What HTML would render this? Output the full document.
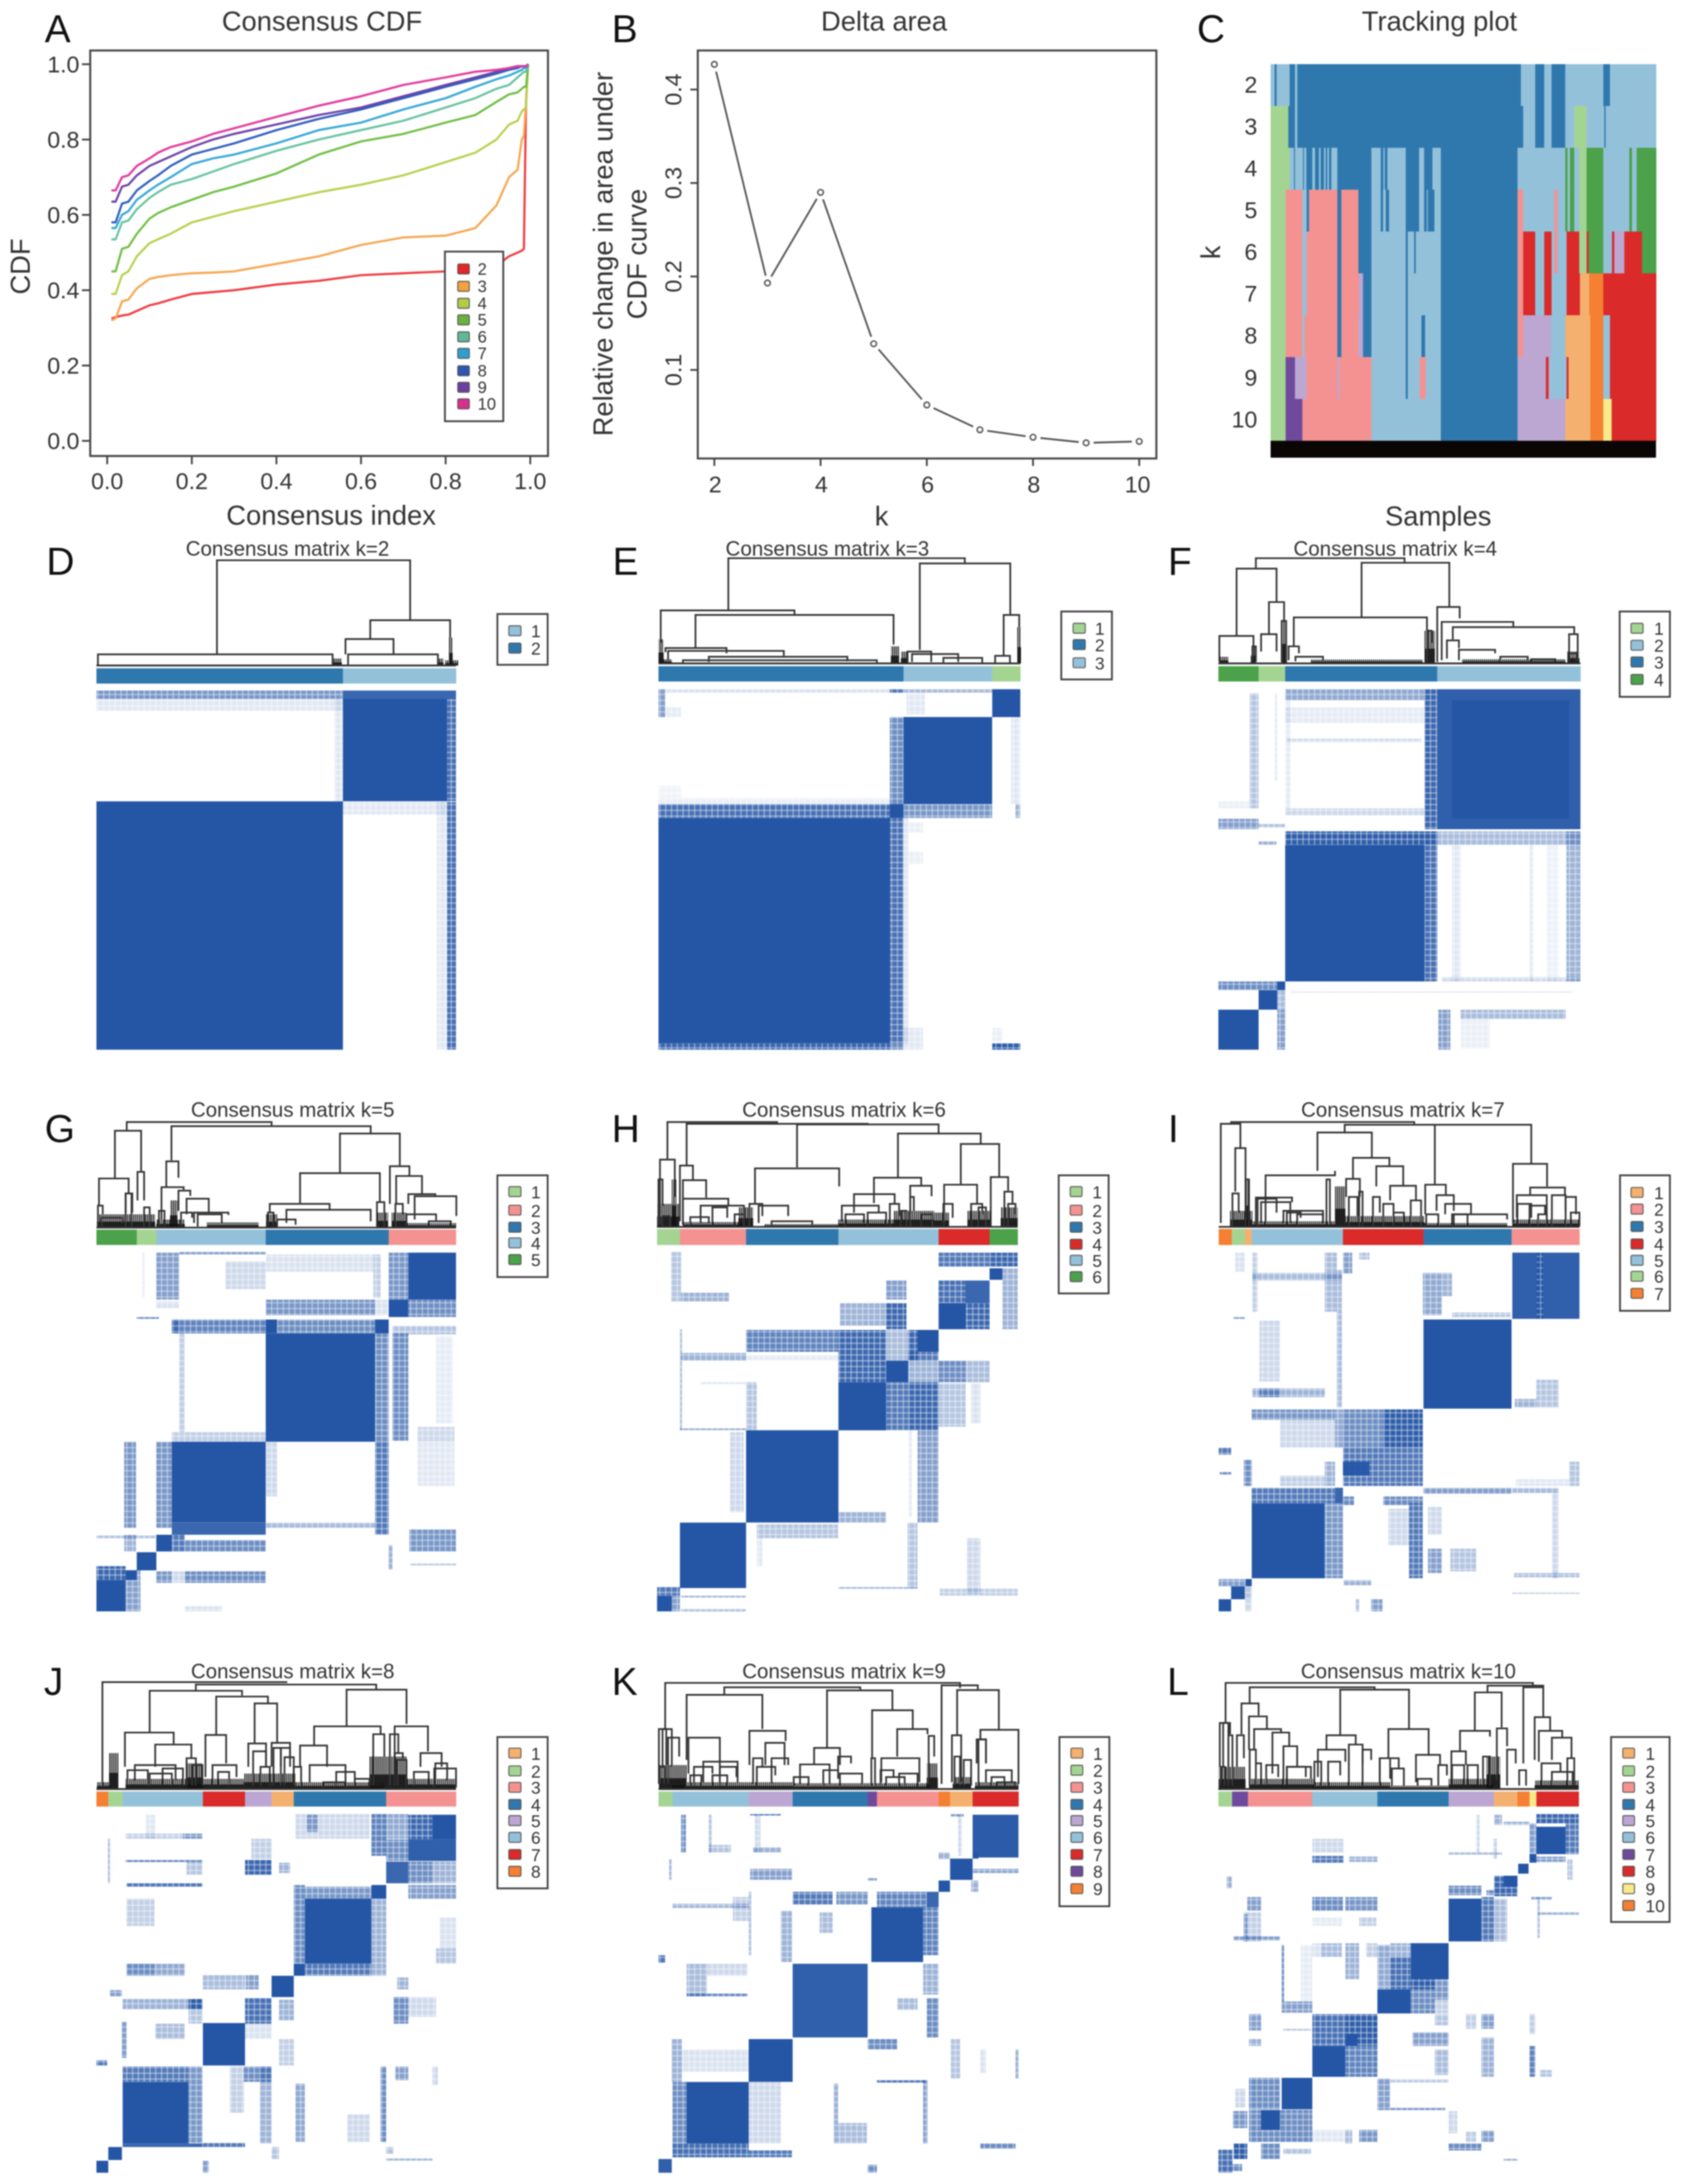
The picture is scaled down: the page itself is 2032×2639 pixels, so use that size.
<!DOCTYPE html>
<html lang="en">
<head>
<meta charset="utf-8">
<title>Consensus clustering panels</title>
<style>
html,body{margin:0;padding:0;background:#fff;width:2032px;height:2639px;overflow:hidden}
svg{display:block;filter:blur(.7px)}
text{font-family:"Liberation Sans",Arial,sans-serif;fill:#333}
</style>
</head>
<body>
<svg id="root" xmlns="http://www.w3.org/2000/svg" width="2032" height="2639" viewBox="0 0 2032 2639">
<defs>
<pattern id="combStripes" width="2.4" height="6" patternUnits="userSpaceOnUse"><rect width="1.4" height="6" fill="#111"/></pattern>
<pattern id="consensusGrid" width="7" height="7" patternUnits="userSpaceOnUse"><rect width="7" height="7" fill="#2556a6"/><rect x="5.4" width="1.6" height="7" fill="#fff" fill-opacity=".4"/><rect y="5.4" width="7" height="1.6" fill="#fff" fill-opacity=".4"/></pattern>
</defs>
<rect width="2032" height="2639" fill="#fff"/>
</svg>
<script>
/* ---------- Panel A: consensus CDF ---------- */
const cdfGrid=[.01,.02,.035,.05,.07,.1,.12,.15,.2,.25,.3,.4,.5,.6,.7,.8,.87,.92,.95,.97,.98,.985,.99,.995];
const cdfK2=[.325,.328,.333,.335,.345,.36,.365,.375,.39,.395,.40,.415,.425,.44,.445,.45,.455,.465,.49,.50,.505,.51,.90,1];
const cdfK3=[.32,.325,.37,.375,.405,.43,.435,.44,.445,.447,.45,.47,.49,.52,.54,.545,.565,.625,.70,.72,.80,.81,.90,1];
const cdfK4=[.39,.39,.44,.45,.49,.525,.535,.55,.58,.595,.61,.635,.66,.68,.705,.74,.765,.80,.84,.85,.875,.88,.885,1];
const cdfK5=[.45,.45,.51,.515,.55,.59,.605,.62,.64,.66,.675,.71,.76,.795,.815,.845,.865,.90,.92,.925,.935,.94,.94,1];
const cdfK6=[.535,.535,.58,.585,.615,.645,.66,.68,.695,.715,.735,.77,.80,.825,.85,.885,.91,.935,.945,.965,.975,.98,.98,1];
const cdfK7=[.565,.565,.60,.61,.64,.665,.68,.70,.735,.75,.76,.79,.825,.845,.88,.91,.94,.96,.97,.98,.985,.99,.99,1];
const cdfK8=[.58,.58,.63,.635,.665,.69,.705,.73,.76,.775,.79,.825,.855,.88,.91,.94,.96,.975,.985,.99,.995,.995,.995,1];
const cdfK9=[.635,.635,.675,.68,.705,.73,.74,.755,.78,.80,.815,.84,.865,.885,.915,.945,.965,.98,.99,.995,.995,.995,.995,1];
const cdfK10=[.665,.665,.70,.705,.73,.75,.765,.78,.795,.815,.83,.86,.89,.915,.945,.965,.98,.985,.99,.995,.995,.995,.995,1];
const cdfNames=['2','3','4','5','6','7','8','9','10'];
const cdfColors=['#ef3b3f','#f5a650','#b6d14e','#6fbe45','#66c3a0','#36a8d8','#2f5fbf','#6f42a8','#e33a9a'];
const cdfSwatches=['#e52429','#f3a23c','#b3cb45','#6bb13f','#60b898','#2ea0cf','#2e55b0','#6a3fa0','#d6308f'];
const cdfTicks=['0.0','0.2','0.4','0.6','0.8','1.0'];
const cdfTickValues=[0,.2,.4,.6,.8,1];

/* ---------- Panel B: delta area ---------- */
const deltaK=[2,3,4,5,6,7,8,9,10];
const deltaValues=[.427,.193,.29,.128,.0625,.036,.028,.022,.0235];
const deltaXTicks=[2,4,6,8,10];
const deltaYTicks=[.1,.2,.3,.4];

/* ---------- Shared cluster palette ---------- */
const palette={LB:'#94c1da',DB:'#2f78ae',LG:'#a4d492',DG:'#4ba24a',PK:'#f49291',RD:'#da2a2a',OL:'#f4b06e',OR:'#f57f32',LP:'#bca6d2',PU:'#6f4a9c',YE:'#f8e98a'};

/* ---------- Panel C: tracking plot, runs of [cluster colour, last sample] ---------- */
const trackK2=[['LB',12],['DB',18],['LB',57],['DB',73],['LB',80],['DB',750],['LB',793],['DB',820],['LB',842],['DB',883],['LB',997],['DB',1017],['LB',1155]];
const trackK3=[['LG',53],['DB',73],['LB',80],['DB',757],['LB',793],['DB',820],['LB',842],['DB',883],['LB',910],['LG',947],['LB',1000],['DB',1004],['LB',1155]];
const trackK4=[['LG',57],['LB',70],['DB',73],['LB',97],['DB',100],['LB',107],['DB',125],['LB',133],['DB',145],['LB',150],['DB',160],['LB',165],['DB',170],['LB',175],['DB',182],['LB',200],['DB',302],['LB',330],['DB',338],['LB',342],['DB',350],['LB',405],['DB',445],['LB',460],['DB',485],['LB',510],['DB',740],['LB',883],['DG',890],['LB',897],['DG',910],['LB',925],['LG',947],['DG',997],['LB',1075],['DG',1083],['LB',1097],['DG',1155]];
const trackK5=[['LG',45],['PK',95],['LB',108],['DB',115],['PK',200],['DB',212],['PK',263],['DB',302],['LB',330],['DB',337],['LB',345],['DB',355],['LB',405],['DB',445],['LB',460],['DB',468],['LB',471],['DB',491],['LB',510],['DB',740],['PK',757],['LB',850],['PK',860],['LB',883],['DG',890],['LB',897],['DG',910],['LB',925],['LG',947],['DG',997],['LB',1075],['DG',1083],['LB',1097],['DG',1155]];
const trackK6=[['LG',45],['PK',95],['LB',108],['PK',200],['DB',212],['PK',263],['DB',302],['LB',405],['DB',411],['LB',430],['DB',435],['LB',510],['DB',740],['PK',757],['RD',793],['LB',820],['RD',842],['LB',850],['PK',860],['LB',887],['RD',925],['LG',947],['RD',953],['DG',997],['LB',1023],['RD',1030],['LP',1060],['RD',1113],['DG',1155]];
const trackK7=[['LG',45],['PK',95],['LB',108],['PK',200],['DB',212],['PK',265],['LP',277],['DB',302],['LB',405],['DB',411],['LB',510],['DB',740],['PK',757],['RD',793],['LB',820],['RD',842],['LB',887],['RD',927],['OL',955],['OR',997],['RD',1155]];
const trackK8=[['LG',45],['PK',95],['LB',102],['PK',200],['DB',212],['PK',263],['LP',277],['DB',302],['LB',405],['DB',411],['LB',452],['DB',463],['LB',510],['DB',740],['PK',757],['LP',840],['LB',883],['OL',958],['OR',997],['LB',1017],['RD',1155]];
const trackK9=[['LG',45],['PU',73],['LP',108],['PK',200],['LP',206],['PK',302],['LB',405],['DB',411],['LB',447],['PK',465],['LB',510],['DB',740],['LP',825],['RD',833],['LP',837],['LB',887],['RD',893],['OL',958],['OR',997],['LB',1017],['RD',1155]];
const trackK10=[['LG',45],['PU',95],['PK',302],['LB',510],['DB',740],['LP',883],['OL',958],['OR',997],['YE',1022],['RD',1155]];
const trackRows=[trackK2,trackK3,trackK4,trackK5,trackK6,trackK7,trackK8,trackK9,trackK10];
const trackLabels=['2','3','4','5','6','7','8','9','10'];

/* ---------- Panels D-L: cluster order, annotation bar, consensus blocks, dendrogram ---------- */
const legendK2=['LB','DB'];
const legendK3=['LG','DB','LB'];
const legendK4=['LG','LB','DB','DG'];
const legendK5=['LG','PK','DB','LB','DG'];
const legendK6=['LG','PK','DB','RD','LB','DG'];
const legendK7=['OL','PK','DB','RD','LB','LG','OR'];
const legendK8=['OL','LG','PK','DB','LP','LB','RD','OR'];
const legendK9=['OL','LG','PK','DB','LP','LB','RD','PU','OR'];
const legendK10=['OL','LG','PK','DB','LP','LB','PU','RD','YE','OR'];

/* annotation bars: [cluster id, sample start, sample end] */
const barK2=[[2,261,928],[1,928,1234]];
const barK3=[[2,214,877],[3,877,1117],[1,1117,1193]];
const barK4=[[4,221,338],[1,338,415],[3,415,857],[2,857,1273]];
const barK5=[[5,261,370],[1,370,423],[4,423,719],[3,719,1052],[2,1052,1234]];
const barK6=[[1,210,272],[2,272,451],[3,451,701],[5,701,972],[4,972,1110],[6,1110,1186]];
const barK7=[[7,222,260],[6,260,298],[1,298,318],[5,318,583],[4,583,817],[3,817,1073],[2,1073,1270]];
const barK8=[[8,261,293],[2,293,332],[6,332,549],[7,549,663],[5,663,735],[1,735,795],[4,795,1045],[3,1045,1234]];
const barK9=[[2,214,252],[6,252,458],[5,458,577],[4,577,780],[8,780,805],[3,805,972],[9,972,1003],[1,1003,1064],[7,1064,1188]];
const barK10=[[2,221,261],[7,261,307],[3,307,494],[6,494,683],[4,683,890],[5,890,1022],[1,1022,1090],[10,1090,1125],[9,1125,1145],[8,1145,1268]];

/* consensus blocks: [col start, col end, row start, row end, consensus] */
const blocksK2=[[261,928,462,486,.55],[928,1234,462,486,.9],[261,928,486,520,.12],[905,928,486,780,.12],[928,1210,486,780,1],[1210,1234,486,780,.75],[261,928,780,1493,1],[928,1210,782,818,.12],[1182,1210,782,1493,.12],[1210,1234,782,1493,.75]];
const blocksK3=[[214,232,458,538,.5],[232,275,510,538,.1],[232,840,458,468,.15],[840,877,458,468,.7],[877,1117,458,468,.35],[885,935,470,530,.12],[1117,1193,458,538,1],[840,877,538,788,.6],[877,1117,538,788,1],[1168,1193,538,788,.12],[214,840,770,788,.08],[214,275,735,770,.06],[214,840,788,828,.75],[840,877,788,828,1],[877,1117,788,828,.55],[1180,1193,788,828,.4],[214,840,828,1475,1],[840,877,828,1475,.75],[877,890,828,1475,.12],[890,930,840,870,.08],[890,930,925,960,.08],[214,840,1475,1493,.8],[840,877,1475,1493,.6],[877,930,1430,1493,.12],[1117,1193,1475,1493,.85],[1117,1145,1430,1470,.08]];
const blocksK4=[[415,820,458,490,.45],[820,857,458,860,.8],[857,1273,458,860,.95],[900,1240,490,830,1],[312,338,470,800,.3],[385,392,470,720,.1],[221,338,830,860,.5],[221,312,780,800,.08],[415,820,510,555,.1],[420,810,600,610,.2],[415,820,800,820,.2],[415,430,490,800,.1],[338,415,845,855,.3],[415,857,866,905,.85],[415,820,905,1297,1],[820,857,905,1297,.75],[857,1273,866,905,.35],[1232,1273,866,1297,.4],[900,925,905,1297,.12],[1125,1135,905,1297,.1],[1175,1210,905,1297,.07],[870,1273,1285,1297,.2],[338,390,895,905,.4],[221,392,1297,1322,.6],[392,415,1297,1322,1],[338,392,1322,1378,1],[392,415,1322,1378,.35],[221,338,1378,1493,1],[392,415,1378,1493,.5],[860,895,1378,1493,.5],[925,1230,1378,1405,.35],[925,1010,1405,1490,.08],[430,1250,1325,1330,.1]];
const blocksK5=[[423,485,460,595,.5],[485,719,458,465,.5],[610,719,485,565,.2],[719,1010,465,515,.15],[1010,1030,465,590,.25],[385,392,460,590,.1],[1052,1105,460,595,.55],[1105,1234,460,595,1],[423,485,600,620,.15],[719,1015,595,640,.55],[1015,1050,595,640,.15],[1052,1105,595,645,1],[1105,1234,595,645,.6],[370,430,645,650,.6],[465,485,652,692,.8],[485,719,652,692,.65],[719,750,652,692,1],[750,1015,652,692,.6],[1015,1052,652,692,1],[1062,1234,670,695,.3],[485,500,692,975,.25],[719,1015,692,1003,1],[1015,1052,692,1003,.6],[1062,1105,692,1000,.6],[1130,1230,960,1003,.2],[1180,1225,700,950,.1],[465,719,975,1003,.25],[336,368,1003,1250,.55],[423,465,1003,1250,.55],[465,719,1003,1235,1],[465,719,1235,1270,.9],[719,750,1003,1160,.2],[719,1015,1235,1250,.35],[1015,1052,1003,1270,.7],[1130,1230,1003,1130,.12],[1108,1234,1255,1318,.55],[261,420,1272,1280,.3],[336,368,1270,1318,.4],[423,465,1270,1318,1],[465,500,1270,1318,.7],[500,719,1285,1318,.6],[370,423,1320,1372,1],[261,340,1360,1400,.8],[340,380,1372,1490,.5],[261,340,1400,1490,1],[340,370,1372,1400,1],[423,465,1375,1408,.55],[500,719,1375,1408,.6],[465,500,1375,1408,.2],[500,600,1475,1490,.15],[1052,1062,1300,1370,.4],[1110,1234,1352,1358,.3]];
const blocksK6=[[248,275,458,600,.3],[275,405,575,600,.4],[972,1110,460,500,.7],[1110,1186,460,500,.8],[1110,1145,505,538,1],[1145,1186,505,680,.4],[972,1045,540,605,.75],[1045,1110,540,605,.9],[972,1045,605,680,1],[1045,1110,605,680,.8],[830,885,540,595,.5],[705,830,605,670,.4],[830,885,605,680,.8],[451,701,682,745,.65],[701,830,682,770,.8],[830,890,682,770,.35],[890,915,682,770,.8],[915,972,682,745,1],[890,972,745,770,.7],[275,451,748,770,.4],[451,700,755,770,.1],[701,830,770,832,.8],[830,890,770,832,1],[890,972,770,832,.4],[972,1045,770,832,.6],[1045,1110,770,832,.35],[701,830,832,970,1],[830,890,832,970,.7],[890,972,832,970,.8],[972,1045,835,960,.3],[1060,1085,835,950,.15],[451,480,832,970,.3],[272,451,965,970,.5],[272,278,680,970,.3],[328,451,832,838,.15],[451,701,970,1235,1],[408,445,975,1205,.2],[915,972,970,1235,.5],[890,900,970,1220,.1],[701,830,1205,1235,.4],[272,451,1235,1423,1],[480,700,1240,1280,.3],[480,495,1280,1360,.12],[888,915,1235,1423,.3],[701,915,1420,1425,.4],[1048,1085,1280,1440,.2],[975,1186,1425,1445,.25],[210,272,1420,1445,.7],[210,250,1445,1490,1],[250,272,1445,1490,.5],[275,450,1445,1450,.4],[275,450,1483,1490,.4]];
const blocksK7=[[1075,1270,460,650,.95],[1145,1165,460,650,.7],[320,335,460,630,.25],[530,565,460,630,.35],[583,610,460,520,.5],[630,660,460,480,.3],[270,298,460,515,.15],[320,580,518,540,.35],[815,870,518,640,.45],[870,900,518,585,.4],[900,1070,632,645,.3],[565,580,510,905,.35],[265,298,645,650,.5],[817,1073,652,908,1],[1082,1145,880,905,.4],[1145,1210,825,905,.3],[340,400,655,830,.2],[320,530,850,875,.4],[340,400,850,875,.5],[318,560,910,940,.55],[400,560,940,1020,.2],[560,583,910,1020,.45],[583,700,910,1020,.6],[700,815,910,1020,.85],[583,815,1020,1130,.7],[583,660,1060,1100,.95],[222,258,1020,1040,.7],[295,318,1055,1130,.6],[225,258,1090,1097,.6],[530,560,1060,1130,.4],[400,530,1100,1130,.25],[1240,1270,1060,1130,.3],[1085,1240,1110,1130,.12],[318,560,1135,1180,.7],[560,583,1135,1180,.9],[583,615,1160,1185,.6],[700,815,1160,1185,.6],[318,530,1180,1395,1],[530,583,1180,1395,.55],[775,815,1180,1395,.7],[715,775,1195,1300,.2],[817,1073,1135,1152,.5],[1075,1210,1135,1150,.35],[1190,1210,1150,1395,.2],[830,870,1190,1270,.2],[830,870,1310,1380,.5],[895,970,1310,1375,.3],[1080,1270,1380,1392,.35],[222,300,1397,1418,.5],[300,318,1397,1418,1],[258,298,1418,1455,1],[298,318,1418,1455,.3],[222,258,1455,1490,1],[298,318,1455,1490,.2],[585,665,1400,1415,.4],[620,630,1455,1490,.3],[665,698,1455,1490,.5],[1075,1270,1435,1440,.25]];
const blocksK8=[[395,420,490,560,.12],[340,548,545,560,.25],[495,548,545,560,.4],[800,1000,488,560,.2],[830,860,490,540,.45],[1005,1045,488,610,.65],[1045,1105,488,560,.45],[1105,1170,490,562,.8],[1170,1234,490,562,1],[1105,1234,562,625,.95],[1045,1105,562,625,.6],[1045,1105,627,690,.9],[1105,1170,627,690,.6],[1170,1234,627,690,.4],[292,298,560,690,.4],[340,548,622,628,.6],[505,548,628,665,.3],[663,735,622,665,.8],[755,785,630,660,.4],[680,735,560,620,.25],[342,548,690,700,.7],[1105,1234,695,735,.5],[342,418,735,815,.25],[795,825,695,925,.6],[825,1005,700,735,.55],[825,1005,735,925,1],[1005,1045,695,735,1],[1005,1045,735,925,.4],[795,825,925,960,1],[825,1005,925,960,.7],[1005,1045,925,960,.4],[342,418,925,960,.6],[418,500,925,960,.45],[1180,1234,880,925,.3],[1190,1234,790,880,.15],[549,663,958,1000,.35],[665,700,958,1000,.5],[735,795,960,1022,1],[298,330,1002,1020,.5],[1075,1105,965,1000,.4],[332,510,1028,1058,.4],[510,548,1028,1058,.85],[510,548,1058,1100,.3],[663,735,1025,1100,.75],[755,795,1030,1090,.4],[1065,1105,1022,1100,.6],[1105,1180,1022,1080,.2],[330,343,1095,1200,.5],[420,500,1100,1145,.35],[549,663,1098,1222,1],[663,735,1100,1145,.15],[755,795,1145,1222,.25],[261,290,1207,1222,.7],[332,510,1225,1270,.7],[510,548,1225,1450,.55],[332,510,1270,1450,1],[622,660,1225,1360,.25],[660,735,1225,1270,.6],[703,735,1225,1450,.4],[800,825,1275,1445,.45],[1030,1045,1225,1445,.6],[940,1000,1365,1445,.2],[1070,1105,1225,1265,.5],[1170,1185,1225,1280,.2],[332,548,1450,1460,.9],[549,663,1448,1460,.7],[293,330,1460,1498,1],[735,755,1460,1495,.3],[1045,1065,1460,1480,.3],[1045,1170,1494,1500,.5],[261,293,1500,1535,1],[549,565,1500,1535,.5]];
const blocksK9=[[275,288,490,600,.6],[350,358,490,600,.3],[350,410,578,600,.3],[462,545,488,492,.7],[475,490,490,600,.2],[470,545,585,600,.4],[1064,1188,490,615,.97],[1005,1040,488,495,.5],[1025,1035,490,610,.2],[972,1003,600,620,.4],[1003,1064,618,680,1],[1064,1080,600,618,1],[1064,1188,648,660,.5],[243,250,620,680,.4],[462,575,648,680,.5],[780,805,675,682,.5],[972,1003,682,715,1],[1060,1080,682,715,.4],[577,685,715,752,.7],[695,780,715,752,.55],[805,940,715,760,.65],[940,972,715,760,.9],[252,458,750,762,.4],[415,458,730,800,.25],[458,465,715,900,.3],[790,930,760,920,1],[930,972,760,900,.65],[650,685,775,835,.35],[545,575,770,920,.4],[214,232,900,922,.7],[577,780,925,1140,.95],[930,972,925,1015,.4],[940,972,1025,1140,.6],[860,915,1025,1060,.35],[290,345,925,1020,.35],[345,455,925,960,.2],[290,455,1012,1020,.6],[458,577,1145,1270,1],[780,860,1145,1175,.6],[250,277,1145,1270,.4],[277,458,1175,1240,.15],[1005,1030,1145,1260,.3],[1085,1100,1175,1245,.15],[1180,1188,1175,1260,.4],[252,290,1270,1450,.6],[290,458,1270,1450,1],[252,458,1450,1490,.75],[458,545,1270,1450,.2],[458,575,1470,1490,.7],[688,700,1275,1450,.4],[700,778,1390,1450,.35],[805,940,1265,1272,.7],[930,942,1265,1450,.5],[1085,1180,1450,1465,.6],[214,250,1495,1535,.95],[780,805,1512,1535,.6]];
const blocksK10=[[1145,1268,488,515,.8],[1125,1145,515,605,.5],[1145,1230,525,605,1],[1230,1268,515,605,.7],[1125,1145,605,630,1],[1145,1230,612,628,.5],[1022,1045,490,520,.4],[1050,1125,510,520,.4],[970,980,490,600,.2],[1020,1030,560,620,.25],[890,1045,600,606,.5],[494,585,560,600,.2],[494,585,610,630,.7],[600,683,612,628,.4],[1092,1122,633,662,1],[1235,1250,620,680,.3],[1022,1090,668,728,.8],[1050,1090,668,700,1],[890,985,697,725,.6],[1000,1022,710,725,.6],[245,260,670,705,.4],[494,583,730,770,.6],[590,683,730,770,.55],[305,345,730,770,.5],[890,985,735,860,1],[985,1022,730,860,.7],[1022,1060,735,860,.35],[295,345,775,860,.25],[494,580,790,815,.1],[630,680,790,815,.25],[265,400,845,857,.5],[295,305,780,860,.5],[1130,1190,730,738,.5],[1148,1155,730,850,.3],[1150,1268,775,782,.4],[520,580,865,905,.35],[590,630,865,970,.4],[494,520,865,905,.15],[650,683,865,905,.25],[683,720,870,1000,.45],[720,780,865,905,.4],[780,890,865,970,1],[720,780,905,1000,.75],[780,850,970,1000,.85],[850,890,970,1030,.55],[683,780,1000,1070,1],[780,850,1000,1070,.6],[850,890,1030,1070,.25],[405,412,870,1035,.55],[405,494,1035,1068,.5],[460,494,870,1035,.1],[494,590,1072,1165,.75],[590,683,1072,1165,.85],[590,625,1130,1165,1],[310,345,1072,1120,.5],[310,345,1145,1165,.4],[410,490,1115,1120,.3],[850,890,1072,1105,.3],[785,890,1125,1165,.5],[850,890,1175,1250,.35],[985,1022,1072,1115,.5],[940,970,1072,1115,.25],[985,1022,1140,1255,.4],[1125,1142,1072,1130,.25],[1125,1142,1165,1255,.65],[1155,1190,1235,1255,.3],[494,590,1165,1255,1],[590,683,1165,1255,.65],[405,494,1258,1350,1],[310,400,1258,1350,.6],[270,300,1290,1345,.2],[683,720,1260,1345,.5],[683,880,1345,1352,.6],[720,890,1262,1272,.25],[263,305,1355,1405,.55],[345,400,1352,1410,1],[310,345,1352,1445,.6],[400,494,1352,1445,.6],[345,400,1410,1445,.6],[494,590,1410,1445,.12],[590,610,1410,1450,.35],[630,683,1410,1445,.55],[890,915,1355,1420,.2],[985,1022,1412,1445,.5],[940,970,1415,1445,.25],[890,985,1450,1470,.6],[265,305,1450,1495,.85],[345,400,1450,1495,.6],[410,490,1465,1480,.3],[221,262,1468,1535,.75],[262,290,1510,1530,.6],[1050,1090,1495,1500,.6]];

/* dendrogram merges: [left leaf, right leaf, merge height, left drop, right drop] */
const mergesK2=[[587,1110,88,358,260],[265,900,358,388,388],[1002,1218,260,314,310],[935,1065,314,358,358],[942,1185,358,388,388]];
const mergesK3=[[403,1043,82,232,97],[921,1166,97,345,245],[220,582,232,325,243],[314,850,245,340,330],[1148,1190,245,360,280],[233,398,340,352,355],[240,553,348,375,362],[350,725,365,380,378],[280,805,375,382,382],[888,952,350,380,380],[900,1025,357,380,380],[985,1090,368,382,382],[1125,1165,362,382,382]];
const mergesK4=[[330,762,82,110,95],[637,892,95,250,222],[274,390,112,305,208],[224,323,305,380,335],[368,412,208,300,262],[345,390,300,350,350],[440,827,252,335,290],[857,922,222,380,255],[870,1078,265,375,280],[902,1255,280,315,300],[885,920,318,370,340],[920,1025,345,375,355],[425,455,335,375,355],[445,525,365,378,375],[1240,1265,300,375,375],[320,330,335,380,380],[405,418,262,380,380],[828,840,290,380,325],[1240,1262,355,380,380],[1040,1120,365,380,375],[1130,1200,372,380,380]];
const mergesK5=[[343,735,85,110,97],[464,1003,97,195,118],[920,1082,118,230,210],[311,382,110,245,228],[268,348,247,325,290],[812,1028,232,318,315],[730,892,320,345,337],[775,1003,337,375,370],[1055,1108,212,320,238],[1072,1142,240,320,290],[1105,1178,292,320,297],[1122,1235,298,365,355],[450,483,198,270,245],[437,497,272,365,280],[483,515,282,340,297],[505,565,305,350,345],[525,618,345,375,352],[340,358,290,345,345],[372,390,228,310,310],[265,278,325,385,350],[275,330,360,385,375],[340,356,290,385,385],[390,405,330,385,385],[430,445,340,385,385],[490,520,345,385,360],[535,600,350,385,375],[725,740,345,385,385],[750,800,365,385,380],[1020,1040,315,385,385],[1070,1090,320,385,350],[1100,1180,350,385,370],[1160,1220,370,385,385]];
const mergesK6=[[238,535,85,190,88],[290,780,90,210,92],[589,972,92,215,118],[862,1086,118,243,148],[1032,1136,148,265,243],[218,258,193,380,300],[272,307,210,370,250],[280,343,252,380,302],[280,403,305,380,325],[475,703,218,320,270],[485,565,325,375,355],[797,925,245,318,268],[743,853,292,345,320],[895,953,268,350,298],[987,1076,265,375,318],[1113,1160,243,380,282],[710,810,325,370,345],[328,445,325,375,350],[214,225,250,380,325],[225,245,355,385,385],[300,350,358,385,375],[360,400,330,385,360],[420,445,350,385,385],[460,495,320,385,355],[520,630,370,385,380],[720,770,350,385,375],[780,830,345,385,380],[840,865,320,385,355],[870,885,340,385,385],[895,905,300,385,340],[925,955,350,385,385],[985,1010,320,385,360],[1060,1090,320,385,350],[1080,1100,330,385,385],[1150,1172,285,385,320],[1160,1180,320,385,350]];
const mergesK7=[[258,790,85,90,90],[228,285,90,375,160],[270,300,160,285,250],[588,850,93,115,93],[850,1130,93,265,205],[509,667,115,225,188],[358,560,238,380,225],[612,718,188,250,212],[680,758,212,270,270],[592,632,248,300,300],[720,795,268,310,310],[822,882,265,350,293],[855,905,295,340,340],[880,955,320,350,350],[1077,1176,205,375,270],[1127,1228,273,295,295],[1088,1175,295,360,360],[330,435,302,380,315],[345,430,315,375,375],[410,525,340,375,375],[900,1060,350,380,365],[262,280,290,385,345],[300,310,250,385,385],[335,390,305,385,345],[420,460,345,385,360],[450,525,350,385,375],[535,545,250,380,380],[600,625,300,385,355],[630,640,285,385,385],[670,690,300,385,345],[700,730,320,385,355],[730,760,345,385,385],[780,810,310,385,385],[825,860,350,385,385],[905,945,350,385,385],[1090,1130,320,385,360],[1125,1170,325,385,350],[1150,1175,350,385,385],[1190,1230,295,385,340],[1230,1260,300,385,350],[1245,1270,345,385,385]];
const mergesK8=[[277,775,103,405,105],[530,1018,110,130,125],[938,1100,125,232,225],[405,655,128,250,142],[585,725,145,255,163],[689,750,165,280,280],[338,470,250,350,285],[420,518,285,350,325],[850,1030,232,288,255],[812,885,288,350,350],[838,935,345,395,395],[556,612,257,380,340],[1068,1158,232,350,305],[1138,1195,310,350,350],[1175,1234,355,410,410],[672,720,282,350,350],[735,785,280,350,350],[365,475,345,390,390],[345,400,360,405,405],[405,465,370,405,405],[440,495,355,405,405],[505,530,325,405,405],[520,548,345,405,405],[575,640,345,405,380],[590,620,365,405,405],[685,720,305,405,350],[705,730,350,405,405],[740,760,295,405,405],[760,785,295,350,320],[770,795,322,405,405],[795,815,350,405,405],[875,935,395,410,410],[910,960,365,405,385],[960,1000,385,405,405],[1010,1040,255,405,320],[1055,1078,255,405,310],[1068,1090,310,405,325],[1075,1100,330,405,405],[1120,1160,365,405,405],[1178,1210,340,390,390]];
const mergesK9=[[232,1030,105,240,120],[392,760,118,140,125],[290,495,140,330,240],[670,847,127,295,183],[792,902,185,325,238],[860,942,240,320,255],[980,1078,112,400,125],[1022,1135,126,258,240],[1085,1188,242,270,400],[460,558,245,345,275],[503,555,280,345,345],[635,705,295,345,345],[597,677,343,400,400],[817,920,325,395,395],[865,915,370,410,410],[295,380,265,370,370],[335,428,335,395,395],[1008,1033,258,395,395],[1075,1100,270,340,340],[1100,1170,360,395,395],[225,250,240,350,350],[215,235,240,400,345],[218,230,350,400,400],[240,270,265,400,320],[300,330,375,405,405],[310,360,350,405,370],[360,400,375,405,405],[380,425,350,405,380],[470,495,325,400,350],[480,530,350,405,375],[520,565,325,400,345],[580,620,380,405,405],[660,700,360,405,385],[705,765,370,405,400],[700,735,320,370,340],[790,800,325,405,405],[815,850,360,405,380],[830,880,380,405,405],[945,960,260,400,320],[1015,1030,320,405,405],[1040,1060,330,405,405],[1080,1100,270,405,340],[1115,1150,380,405,405],[1130,1180,395,405,405]];
const mergesK10=[[242,1135,105,220,113],[312,675,118,165,125],[575,775,125,258,240],[715,832,240,325,318],[535,620,258,300,285],[288,338,165,255,200],[310,362,203,300,238],[325,403,240,300,250],[378,427,250,370,290],[1003,1165,113,133,118],[966,1044,133,245,235],[1107,1165,118,340,205],[1140,1185,205,330,245],[1152,1220,245,335,265],[1190,1247,265,330,325],[923,1010,245,305,262],[898,940,305,385,345],[1030,1060,238,390,290],[690,745,325,400,355],[795,865,315,395,345],[510,590,300,380,335],[225,255,222,350,255],[275,295,258,350,325],[420,475,350,400,380],[235,250,222,350,350],[228,240,350,405,405],[250,262,258,405,405],[312,330,300,405,340],[330,345,340,405,405],[360,395,345,405,380],[410,450,290,405,350],[420,490,350,405,385],[500,520,335,405,405],[540,575,335,405,375],[600,640,285,405,340],[640,665,300,405,330],[725,760,355,405,405],[690,720,325,405,385],[800,840,385,405,405],[860,885,345,405,375],[900,935,345,405,405],[945,975,345,405,405],[990,1010,320,405,405],[1060,1085,300,405,340],[1095,1115,360,405,405],[1160,1215,340,405,365],[1190,1250,365,405,405],[1235,1255,325,405,405]];

/* dense low-level branches: [start leaf, end leaf, height] */
const combK2=[[900,925,370],[1185,1200,370],[1215,1225,310],[1205,1240,375]];
const combK3=[[214,228,315],[1185,1195,280],[843,865,335],[870,890,350],[214,250,372]];
const combK4=[[224,250,365],[315,330,335],[405,420,260],[820,850,290],[1235,1270,350],[490,815,373],[930,1230,372]];
const combK5=[[262,420,350],[460,480,310],[423,500,365],[1020,1050,345],[720,750,350],[1060,1100,345],[1100,1234,375],[560,700,373]];
const combK6=[[210,270,320],[250,262,250],[430,470,330],[960,1000,345],[1140,1186,330],[850,960,340],[1050,1115,340],[700,850,365],[280,450,372],[500,700,378]];
const combK7=[[255,320,340],[300,310,250],[560,590,270],[590,820,355],[320,560,370],[820,1060,375],[1075,1270,365]];
const combK8=[[262,300,395],[295,320,310],[340,660,385],[505,548,340],[660,800,370],[800,1040,395],[1000,1050,320],[1050,1100,320],[1100,1234,385]];
const combK9=[[215,290,345],[250,285,390],[290,580,395],[940,970,340],[580,950,398],[1010,1060,380],[1070,1188,395]];
const combK10=[[222,300,350],[310,500,385],[495,720,395],[890,1020,385],[1000,1040,320],[1140,1268,390],[720,890,405]];

const matrixPanels=[
 {k:2,letter:'D',lx:56,ly:694.7,ox:0,oy:640,sx:2.24,sy:2.376,tx:778,ty:75,base:390,bar:[398,442],box:[1346,1482,242,388],sw:[1377,1410],tl:1437,rows:[290,340],legend:legendK2,barData:barK2,blocks:blocksK2,merges:mergesK2,comb:combK2},
 {k:3,letter:'E',lx:740,ly:694.7,ox:700,oy:640,sx:2.24,sy:2.376,tx:671,ty:75,base:384,bar:[392,436],box:[1304,1441,235,430],sw:[1336,1369],tl:1395,rows:[283,330,382],legend:legendK3,barData:barK3,blocks:blocksK3,merges:mergesK3,comb:combK3},
 {k:4,letter:'F',lx:1411,ly:694.7,ox:1380,oy:640,sx:2.405,sy:2.376,tx:735,ty:75,base:384,bar:[392,436],box:[1387,1533,235,480],sw:[1420,1455],tl:1487,rows:[283,332,380,430],legend:legendK4,barData:barK4,blocks:blocksK4,merges:mergesK4,comb:combK4},
 {k:5,letter:'G',lx:54,ly:1380,ox:0,oy:1320,sx:2.24,sy:2.376,tx:792,ty:70,base:388,bar:[394,438],box:[1346,1482,238,530],sw:[1377,1410],tl:1437,rows:[285,338,387,432,480],legend:legendK5,barData:barK5,blocks:blocksK5,merges:mergesK5,comb:combK5},
 {k:6,letter:'H',lx:739,ly:1380,ox:700,oy:1320,sx:2.24,sy:2.376,tx:716,ty:70,base:386,bar:[392,438],box:[1297,1432,238,577],sw:[1328,1360],tl:1388,rows:[285,338,387,436,482,529],legend:legendK6,barData:barK6,blocks:blocksK6,merges:mergesK6,comb:combK6},
 {k:7,letter:'I',lx:1411,ly:1380,ox:1380,oy:1320,sx:2.405,sy:2.376,tx:757,ty:70,base:386,bar:[392,438],box:[1388,1533,238,627],sw:[1420,1455],tl:1487,rows:[287,335,385,435,482,528,577],legend:legendK7,barData:barK7,blocks:blocksK7,merges:mergesK7,comb:combK7},
 {k:8,letter:'J',lx:53,ly:2048,ox:0,oy:1990,sx:2.24,sy:2.416,tx:792,ty:92,base:415,bar:[422,466],box:[1346,1482,263,705],sw:[1377,1410],tl:1437,rows:[310,362,410,460,507,556,606,655],legend:legendK8,barData:barK8,blocks:blocksK8,merges:mergesK8,comb:combK8},
 {k:9,letter:'K',lx:739,ly:2048,ox:700,oy:1990,sx:2.24,sy:2.416,tx:716,ty:92,base:415,bar:[422,466],box:[1299,1434,263,757],sw:[1330,1362],tl:1390,rows:[310,360,410,460,507,556,606,655,706],legend:legendK9,barData:barK9,blocks:blocksK9,merges:mergesK9,comb:combK9},
 {k:10,letter:'L',lx:1410,ly:2048,ox:1380,oy:1990,sx:2.405,sy:2.416,tx:773,ty:92,base:415,bar:[422,466],box:[1362,1532,263,803],sw:[1396,1430],tl:1462,rows:[310,362,410,460,507,556,606,655,706,755],legend:legendK10,barData:barK10,blocks:blocksK10,merges:mergesK10,comb:combK10}
];

/* ---------- Rendering ---------- */
const NS='http://www.w3.org/2000/svg';
const root=document.getElementById('root');
const MATRIX_BLUE='#2556a6', AXIS='#444';

function mk(tag,parent,name,attrs){
  const el=document.createElementNS(NS,tag);
  
  
  for(const a in attrs) el.setAttribute(a,attrs[a]);
  parent.appendChild(el);
  return el;
}
function label(parent,name,str,x,y,size,anchor,rot,fill){
  const at={x:x,y:y,'font-size':size,'text-anchor':anchor||'middle'};
  if(rot) at.transform='rotate('+rot+' '+x+' '+y+')';
  if(fill) at.style='fill:'+fill;
  const t=mk('text',parent,name,at);
  t.textContent=str;
  return t;
}
function frameBox(parent,name,x0,x1,y0,y1,sw){
  return mk('rect',parent,name,{x:x0,y:y0,width:x1-x0,height:y1-y0,fill:'none',stroke:AXIS,'stroke-width':sw||2.4});
}

/* Panel A */
(function(){
  const g=mk('g',root,'panel-a-consensus-cdf',{});
  const x=v=>129.5+v*(640.6-129.5), y=v=>532.7-v*(532.7-77.6);
  label(g,'panel-letter-a','A',54,51,47,'start',0,'#111');
  label(g,'cdf-title','Consensus CDF',389,37,33);
  frameBox(g,'cdf-plot-frame',109,662,61,551);
  cdfTickValues.forEach((v,i)=>{
    mk('line',g,'x-axis-tick',{x1:x(v),x2:x(v),y1:551,y2:561,stroke:AXIS,'stroke-width':2.2});
    label(g,'x-axis-tick-label',cdfTicks[i],x(v),591,28);
    mk('line',g,'y-axis-tick',{x1:99,x2:109,y1:y(v),y2:y(v),stroke:AXIS,'stroke-width':2.2});
    label(g,'y-axis-tick-label',cdfTicks[i],96,y(v)+10,28,'end');
  });
  label(g,'x-axis-title','Consensus index',400,634,33);
  label(g,'y-axis-title','CDF',36,322,33,'middle',-90);
  [cdfK2,cdfK3,cdfK4,cdfK5,cdfK6,cdfK7,cdfK8,cdfK9,cdfK10].forEach((vals,i)=>{
    const d=vals.map((v,j)=>(j?'L':'M')+x(cdfGrid[j]).toFixed(1)+' '+y(v).toFixed(1)).join('');
    mk('path',g,'cdf-line-k'+cdfNames[i],{d:d,fill:'none',stroke:cdfColors[i],'stroke-width':2.6,'stroke-linejoin':'round'});
  });
  mk('rect',g,'cdf-legend-box',{x:537.5,y:304,width:70.5,height:205,fill:'#fff',stroke:AXIS,'stroke-width':2.2});
  const rows=[325,346,366.5,386.5,407,427,448,468,488];
  cdfNames.forEach((n,i)=>{
    mk('rect',g,'cdf-legend-swatch-'+n,{x:553,y:rows[i]-6,width:14,height:12,rx:1.5,fill:cdfSwatches[i],stroke:'#555','stroke-width':1.2});
    label(g,'cdf-legend-label-'+n,n,577,rows[i]+7,20,'start');
  });
})();

/* Panel B */
(function(){
  const g=mk('g',root,'panel-b-delta-area',{});
  const x=k=>863+(k-2)*(1376.3-863)/8, y=v=>447-(v-.1)*(447-108.2)/.3;
  label(g,'panel-letter-b','B',739,51,47,'start',0,'#111');
  label(g,'delta-title','Delta area',1068,37,33);
  frameBox(g,'delta-plot-frame',843,1397,61,554);
  deltaXTicks.forEach(k=>{
    mk('line',g,'x-axis-tick',{x1:x(k),x2:x(k),y1:554,y2:563,stroke:AXIS,'stroke-width':2.2});
    label(g,'x-axis-tick-label',String(k),x(k)+(k==10?-2:1),595,28);
  });
  deltaYTicks.forEach(v=>{
    mk('line',g,'y-axis-tick',{x1:834,x2:843,y1:y(v),y2:y(v),stroke:AXIS,'stroke-width':2.2});
    label(g,'y-axis-tick-label',v.toFixed(1),823,y(v),28,'middle',-90);
  });
  label(g,'x-axis-title','k',1065,635,33);
  label(g,'y-axis-title-line-1','Relative change in area under',740,307,33,'middle',-90);
  label(g,'y-axis-title-line-2','CDF curve',781,307,33,'middle',-90);
  deltaK.forEach((k,i)=>{
    if(i<deltaK.length-1){
      const x1=x(k),y1=y(deltaValues[i]),x2=x(deltaK[i+1]),y2=y(deltaValues[i+1]);
      const L=Math.hypot(x2-x1,y2-y1),g0=Math.min(9,L*.35),ux=(x2-x1)/L,uy=(y2-y1)/L;
      mk('line',g,'delta-line-segment',{x1:x1+ux*g0,y1:y1+uy*g0,x2:x2-ux*g0,y2:y2-uy*g0,stroke:'#555','stroke-width':2.2});
    }
    mk('circle',g,'delta-point-k'+k,{cx:x(k),cy:y(deltaValues[i]),r:3.4,fill:'#fff',stroke:'#555','stroke-width':1.8});
  });
})();

/* Panel C */
(function(){
  const g=mk('g',root,'panel-c-tracking-plot',{});
  const x=s=>1535+s*(2000.6-1535)/1155, rowH=(532.6-77.5)/9, y=r=>77.5+r*rowH;
  label(g,'panel-letter-c','C',1446,51,47,'start',0,'#111');
  label(g,'tracking-title','Tracking plot',1739,37,33);
  trackRows.forEach((runs,r)=>{
    let start=0;
    runs.forEach(run=>{
      mk('rect',g,'tracking-strip-k'+trackLabels[r],{x:x(start).toFixed(2),y:y(r).toFixed(2),width:(x(run[1])-x(start)+.4).toFixed(2),height:(rowH+.4).toFixed(2),fill:palette[run[0]]});
      start=run[1];
    });
    label(g,'tracking-row-label-'+trackLabels[r],trackLabels[r],1519,y(r)+rowH/2+9,28,'end');
  });
  mk('rect',g,'tracking-sample-bar',{x:1535,y:532.6,width:465.6,height:20.4,fill:'#0a0606'});
  label(g,'tracking-y-title','k',1474,305,33,'middle',-90);
  label(g,'tracking-x-title','Samples',1737.5,635,33);
})();

/* Panels D-L */
matrixPanels.forEach(p=>{
  const g=mk('g',root,'panel-consensus-matrix-k'+p.k,{});
  const x=z=>p.ox+z/p.sx, y=z=>p.oy+z/p.sy;
  label(g,'panel-letter-'+p.letter.toLowerCase(),p.letter,p.lx,p.ly,47,'start',0,'#111');
  p.blocks.forEach(b=>{
    const solid=b[4]>=.9;
    mk('rect',g,'consensus-block',{x:x(b[0]).toFixed(1),y:y(b[2]).toFixed(1),width:((b[1]-b[0])/p.sx).toFixed(1),height:((b[3]-b[2])/p.sy).toFixed(1),fill:solid?MATRIX_BLUE:'url(#consensusGrid)','fill-opacity':solid?b[4]:Math.min(1,b[4]*1.12)});
  });
  p.barData.forEach(b=>{
    mk('rect',g,'annotation-bar-cluster-'+b[0],{x:x(b[1]).toFixed(1),y:y(p.bar[0]).toFixed(1),width:((b[2]-b[1])/p.sx+.3).toFixed(1),height:((p.bar[1]-p.bar[0])/p.sy).toFixed(1),fill:palette[p.legend[b[0]-1]]});
  });
  p.comb.forEach(c=>{
    mk('rect',g,'dendrogram-dense-branches',{x:x(c[0]).toFixed(1),y:y(c[2]).toFixed(1),width:((c[1]-c[0])/p.sx).toFixed(1),height:((p.base-c[2])/p.sy).toFixed(1),fill:'url(#combStripes)'});
    mk('rect',g,'dendrogram-dense-base',{x:x(c[0]).toFixed(1),y:y(p.base-(p.base-c[2])*.45).toFixed(1),width:((c[1]-c[0])/p.sx).toFixed(1),height:((p.base-c[2])*.45/p.sy).toFixed(1),fill:'#111','fill-opacity':.85});
  });
  p.merges.forEach(m=>{
    const d='M'+x(m[0]).toFixed(1)+' '+y(m[3]).toFixed(1)+'V'+y(m[2]).toFixed(1)+'H'+x(m[1]).toFixed(1)+'V'+y(m[4]).toFixed(1);
    mk('path',g,'dendrogram-merge',{d:d,fill:'none',stroke:'#333','stroke-width':2.1});
  });
  mk('line',g,'dendrogram-baseline',{x1:x(p.barData[0][1]),x2:x(p.barData[p.barData.length-1][2]),y1:y(p.base),y2:y(p.base),stroke:'#333','stroke-width':2.2});
  label(g,'matrix-title-k'+p.k,'Consensus matrix k='+p.k,x(p.tx),y(p.ty),24.8);
  mk('rect',g,'matrix-legend-box',{x:x(p.box[0]).toFixed(1),y:y(p.box[2]).toFixed(1),width:((p.box[1]-p.box[0])/p.sx).toFixed(1),height:((p.box[3]-p.box[2])/p.sy).toFixed(1),fill:'#fff',stroke:AXIS,'stroke-width':2.2});
  p.rows.forEach((r,i)=>{
    mk('rect',g,'matrix-legend-swatch-'+(i+1),{x:x(p.sw[0]).toFixed(1),y:(y(r)-6).toFixed(1),width:((p.sw[1]-p.sw[0])/p.sx).toFixed(1),height:12,rx:1.5,fill:palette[p.legend[i]],stroke:'#555','stroke-width':1.2});
    label(g,'matrix-legend-label-'+(i+1),String(i+1),x(p.tl),y(r)+8,21,'start');
  });
});
</script>
</body>
</html>
